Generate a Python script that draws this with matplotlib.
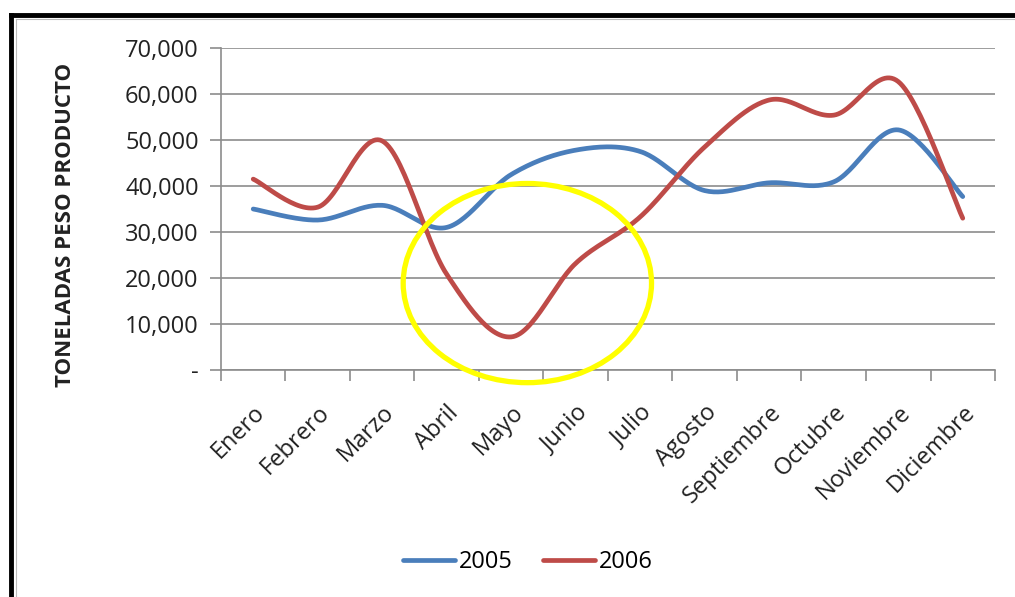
import numpy as np
import matplotlib.pyplot as plt
from matplotlib.patches import Ellipse
from matplotlib.ticker import FuncFormatter

meses = ["Enero", "Febrero", "Marzo", "Abril", "Mayo", "Junio", "Julio",
         "Agosto", "Septiembre", "Octubre", "Noviembre", "Diciembre"]
ton_2005 = [35000, 32600, 35800, 31000, 42500, 47800, 47500,
            39000, 40700, 40900, 52200, 37700]
ton_2006 = [41500, 35400, 49800, 20800, 7200, 23200, 33300,
            48500, 58700, 55400, 62700, 33000]
y_ticks = [0, 10000, 20000, 30000, 40000, 50000, 60000, 70000]

plt.rcParams['font.family'] = ['Open Sans', 'DejaVu Sans']


def smooth(y, n=30):
    # excel-style smoothed line (catmull-rom bezier through the points)
    y = np.asarray(y, dtype=float)
    x = np.arange(len(y), dtype=float)
    px = np.concatenate([[x[0]], x, [x[-1]]])
    py = np.concatenate([[y[0]], y, [y[-1]]])
    xs, ys = [], []
    t = np.linspace(0, 1, n)
    for i in range(len(y) - 1):
        p0 = np.array([x[i], y[i]])
        p3 = np.array([x[i + 1], y[i + 1]])
        p1 = p0 + (np.array([px[i + 2], py[i + 2]]) - np.array([px[i], py[i]])) / 6
        p2 = p3 - (np.array([px[i + 3], py[i + 3]]) - np.array([px[i + 1], py[i + 1]])) / 6
        b = ((1 - t) ** 3)[:, None] * p0 + (3 * (1 - t) ** 2 * t)[:, None] * p1 \
            + (3 * (1 - t) * t ** 2)[:, None] * p2 + (t ** 3)[:, None] * p3
        xs.extend(b[:, 0])
        ys.extend(b[:, 1])
    return np.array(xs), np.array(ys)


fig = plt.figure(figsize=(10.15, 5.97), dpi=100)
ax = fig.add_axes([0.2177, 0.3802, 0.7626, 0.5394])

grid_col = "#8c8c8c"
txt_col = "#222222"
for v in y_ticks:
    ax.axhline(v, color=grid_col, lw=1.2, zorder=1)

xb, yb = smooth(ton_2005)
xr, yr = smooth(ton_2006)
ax.plot(xb, yb, color="#4A7EBB", lw=3.4, solid_capstyle="round", label="2005", zorder=3)
ax.plot(xr, yr, color="#BE4B48", lw=3.4, solid_capstyle="round", label="2006", zorder=3)

ell = Ellipse((4.25, 18900), 3.85, 43300, fill=False, edgecolor="#FFFF00",
              lw=3.8, clip_on=False, zorder=4)
ax.add_patch(ell)

ax.set_xlim(-0.5, 11.5)
ax.set_ylim(0, 70000)
ax.set_yticks(y_ticks)
ax.yaxis.set_major_formatter(FuncFormatter(lambda v, p: "-" if v == 0 else f"{int(v):,}"))
ax.set_xticks(np.arange(len(meses)))
ax.set_xticklabels(meses, rotation=45, ha="right", rotation_mode="anchor")
ax.set_xticks(np.arange(-0.5, 12, 1), minor=True)
ax.tick_params(axis="x", which="major", length=0, pad=22, labelsize=17, colors=txt_col)
ax.tick_params(axis="x", which="minor", length=8, width=1.2, color=grid_col)
ax.tick_params(axis="y", length=8, width=1.2, color=grid_col, labelsize=17,
               labelcolor=txt_col, pad=8)

for s in ["top", "right"]:
    ax.spines[s].set_visible(False)
ax.spines["left"].set_color(grid_col)
ax.spines["bottom"].set_color(grid_col)
ax.spines["left"].set_linewidth(1.2)
ax.spines["bottom"].set_linewidth(1.2)

ax.set_ylabel("TONELADAS PESO PRODUCTO", fontsize=16, fontweight="bold", color=txt_col)
ax.yaxis.set_label_coords(-0.187, 0.45)

fig.legend(loc="center", bbox_to_anchor=(0.52, 0.058), ncol=2, frameon=False,
           fontsize=17, handlelength=2.2, handletextpad=0.15, columnspacing=1.3)

# outer frame of the screenshot
fig.add_artist(plt.Line2D([0.0108, 0.0108], [0, 0.975], color="black", lw=3.5,
                          transform=fig.transFigure))
fig.add_artist(plt.Line2D([0.0108, 1.0], [0.975, 0.975], color="black", lw=3.5,
                          transform=fig.transFigure))
fig.add_artist(plt.Line2D([0.016, 0.016], [0, 0.968], color="#bbbbbb", lw=0.8,
                          transform=fig.transFigure))
fig.add_artist(plt.Line2D([0.016, 1.0], [0.968, 0.968], color="#bbbbbb", lw=0.8,
                          transform=fig.transFigure))

fig.savefig("out.png", dpi=100)
